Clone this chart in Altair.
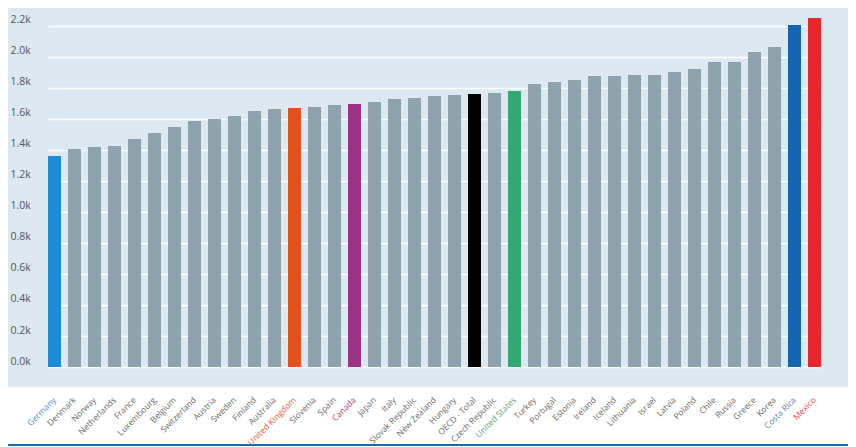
import altair as alt
import pandas as pd

countries = ["Germany", "Denmark", "Norway", "Netherlands", "France", "Luxembourg",
             "Belgium", "Switzerland", "Austria", "Sweden", "Finland", "Australia",
             "United Kingdom", "Slovenia", "Spain", "Canada", "Japan", "Italy",
             "Slovak Republic", "New Zealand", "Hungary", "OECD - Total", "Czech Republic",
             "United States", "Turkey", "Portugal", "Estonia", "Ireland", "Iceland",
             "Lithuania", "Israel", "Latvia", "Poland", "Chile", "Russia", "Greece",
             "Korea", "Costa Rica", "Mexico"]
hours = [1361, 1406, 1419, 1426, 1471, 1510, 1548, 1587, 1600, 1619, 1652, 1665,
         1671, 1677, 1690, 1697, 1710, 1729, 1735, 1748, 1755, 1761, 1768, 1781,
         1826, 1839, 1852, 1877, 1877, 1884, 1884, 1903, 1923, 1968, 1968, 2032,
         2065, 2206, 2252]
y_ticks = [0, 200, 400, 600, 800, 1000, 1200, 1400, 1600, 1800, 2000, 2200]

GREY = "#8fa3af"
bar_highlight = {
    "Germany": "#1a8cd8",
    "United Kingdom": "#e2521d",
    "Canada": "#9b3387",
    "OECD - Total": "#000000",
    "United States": "#33a872",
    "Costa Rica": "#1565ae",
    "Mexico": "#e8262c",
}
label_highlight = {
    "Germany": "#4f8fd6",
    "United Kingdom": "#e2603a",
    "Canada": "#a2447e",
    "United States": "#5fa57e",
    "Costa Rica": "#5a7fc0",
    "Mexico": "#e8454a",
}

df = pd.DataFrame({"country": countries, "hours": hours})
bar_colors = [bar_highlight.get(c, GREY) for c in countries]

W, H = 840, 379

label_color = {
    "condition": [{"test": f"datum.value === '{c}'", "value": col}
                  for c, col in label_highlight.items()],
    "value": "#6a6a6a",
}

x = alt.X(
    "country:N",
    sort=countries,
    scale=alt.Scale(paddingInner=0.35, paddingOuter=0, range=[40, 813]),
    axis=alt.Axis(
        title=None, labelAngle=315, labelAlign="right", labelBaseline="middle",
        labelPadding=11, ticks=False, domain=False, grid=False, labelOverlap=False,
        labelFontSize=8.5, labelFont="Open Sans", labelColor=label_color, labelLimit=200,
    ),
)
y = alt.Y(
    "hours:Q",
    scale=alt.Scale(domain=[-129, 2316], nice=False, zero=False),
    axis=alt.Axis(
        title=None, values=y_ticks, labelExpr="format(datum.value/1000, '.1f') + 'k'",
        labelAlign="left", labelPadding=-2, tickSize=0, ticks=False, domain=False,
        labelBaseline="alphabetic", labelOffset=-3, labelFontSize=10.5,
        labelFont="Open Sans", labelColor="#555555", gridColor="#ffffff",
        gridWidth=1.5, gridOpacity=1,
    ),
)

bars = alt.Chart(df).mark_bar().encode(
    x=x,
    y=y,
    y2=alt.datum(0),
    color=alt.Color("country:N", scale=alt.Scale(domain=countries, range=bar_colors), legend=None),
)

line_df = pd.DataFrame({"v": [0]})
bottom_line = alt.Chart(line_df).mark_rule(color="#1a6aa8", strokeWidth=2).encode(
    x=alt.value(0), x2=alt.value(W), y=alt.value(H + 58)
)

chart = alt.layer(bars, bottom_line).properties(
    width=W, height=H,
    autosize=alt.AutoSizeParams(type="none"),
    padding={"left": 0, "top": 0, "right": 0, "bottom": 60},
    background="#ffffff",
).configure_view(stroke=None, fill="#dde8f1")

chart.save("out.html", embed_options={"renderer": "svg", "actions": False})
